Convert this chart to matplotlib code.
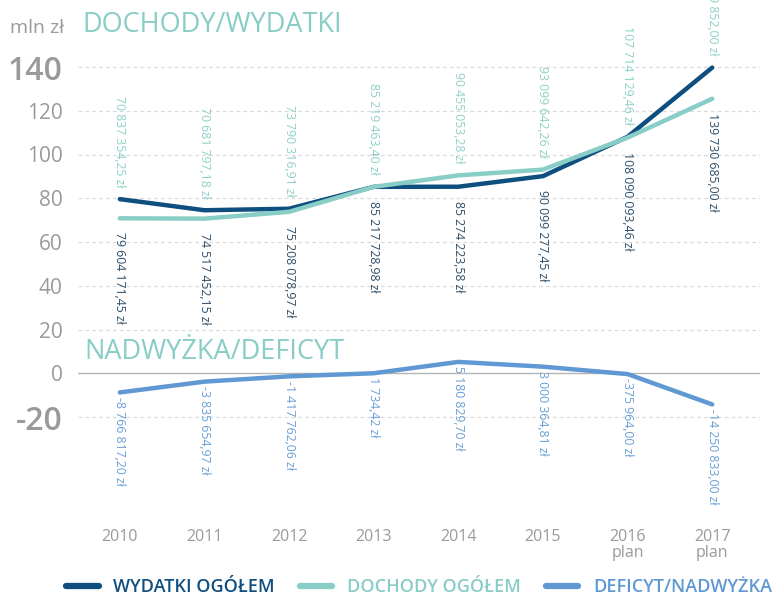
import matplotlib
matplotlib.use('Agg')
import matplotlib.pyplot as plt

plt.rcParams['font.family'] = ['Open Sans', 'DejaVu Sans']

# dane (zł)
lata = [2010, 2011, 2012, 2013, 2014, 2015, 2016, 2017]
etykiety_lat = ['2010', '2011', '2012', '2013', '2014', '2015', '2016\nplan', '2017\nplan']
wydatki = [79604171.45, 74517452.15, 75208078.97, 85217728.98, 85274223.58,
           90099277.45, 108090093.46, 139730685.00]
dochody = [70837354.25, 70681797.18, 73790316.91, 85219463.40, 90455053.28,
           93099642.26, 107714129.46, 125479852.00]
deficyt = [-8766817.20, -3835654.97, -1417762.06, 1734.42, 5180829.70,
           3000364.81, -375964.00, -14250833.00]
yticks = [-20, 0, 20, 40, 60, 80, 100, 120, 140]

C_WYD = '#0f4f80'
C_DOCH = '#88cdc6'
C_DEF = '#5f98d2'
C_GREY = '#9a9a9a'


def zl(v):
    return f"{v:,.2f}".replace(',', ' ').replace('.', ',') + ' zł'


mln = lambda lst: [v / 1e6 for v in lst]

fig = plt.figure(figsize=(7.81, 5.98), dpi=100)
W, H = 781, 598
# pozycja osi w pikselach
x0, x1, ytop, ybot = 78, 760, 10, 515
ax = fig.add_axes([x0 / W, 1 - ybot / H, (x1 - x0) / W, (ybot - ytop) / H])

# skala: 2010 -> x=120, 85 px na rok; 140 -> y=67, -20 -> y=417
pxy = 350 / 160
ax.set_xlim(2010 - (120 - x0) / 85, 2017 + (x1 - 712) / 85)
ax.set_ylim(-20 - (ybot - 417) / pxy, 140 + (67 - ytop) / pxy)

for t in yticks:
    if t == 0:
        ax.axhline(0, color='#b5b5b5', lw=1.0, zorder=1)
    else:
        ax.axhline(t, color='#dadada', lw=0.9, ls=(0, (3, 2.5)), zorder=1)

ax.plot(lata, mln(wydatki), color=C_WYD, lw=3.2, solid_capstyle='round', zorder=3)
ax.plot(lata, mln(dochody), color=C_DOCH, lw=3.2, solid_capstyle='round', zorder=3)
ax.plot(lata, mln(deficyt), color=C_DEF, lw=3.2, solid_capstyle='round', zorder=3)

for x, w, d, df in zip(lata, wydatki, dochody, deficyt):
    top = max(w, d) / 1e6
    low = min(w, d) / 1e6
    ax.annotate(zl(d), (x, top), xytext=(0, 8.5), textcoords='offset points',
                rotation=270, ha='center', va='bottom', fontsize=8.8, color='#8fd0c8')
    ax.annotate(zl(w), (x, low), xytext=(0, -10), textcoords='offset points',
                rotation=270, ha='center', va='top', fontsize=8.8, color='#2e4e68')
    ax.annotate(zl(df), (x, df / 1e6), xytext=(0, -3), textcoords='offset points',
                rotation=270, ha='center', va='top', fontsize=8.8, color='#6a9fd6')

ax.set_yticks(yticks)
ax.set_yticklabels([str(t) for t in yticks])
for lab in ax.get_yticklabels():
    if lab.get_text() in ('140', '-20'):
        lab.set_fontsize(23)
        lab.set_fontweight('semibold')
    else:
        lab.set_fontsize(15)
    lab.set_color(C_GREY)
ax.set_xticks(lata)
ax.set_xticklabels(etykiety_lat, fontsize=11.5, color=C_GREY, linespacing=1.05)
ax.tick_params(axis='y', length=0, pad=11)
ax.tick_params(axis='x', length=0, pad=10)
for s in ax.spines.values():
    s.set_visible(False)

fig.text(10 / W, 1 - 28 / H, 'mln zł', fontsize=14, color=C_GREY, va='center', ha='left')
fig.text(82 / W, 1 - 25 / H, 'DOCHODY/WYDATKI', fontsize=19.5, color=C_DOCH, va='center', ha='left')
fig.text(84 / W, 1 - 352 / H, 'NADWYŻKA/DEFICYT', fontsize=19.5, color=C_DOCH, va='center', ha='left')

h1, = ax.plot([], [], color=C_WYD, lw=4.5, solid_capstyle='round')
h2, = ax.plot([], [], color=C_DOCH, lw=4.5, solid_capstyle='round')
h3, = ax.plot([], [], color=C_DEF, lw=4.5, solid_capstyle='round')
leg = fig.legend([h1, h2, h3], ['WYDATKI OGÓŁEM', 'DOCHODY OGÓŁEM', 'DEFICYT/NADWYŻKA'],
                 loc='center left', bbox_to_anchor=(66 / W, 11 / H), ncol=3, frameon=False,
                 prop={'size': 13, 'weight': 'semibold'}, handlelength=1.8,
                 handletextpad=0.8, columnspacing=1.4, borderpad=0, borderaxespad=0)
for txt, c in zip(leg.get_texts(), [C_WYD, C_DOCH, C_DEF]):
    txt.set_color(c)

fig.savefig('out.png', dpi=100)
